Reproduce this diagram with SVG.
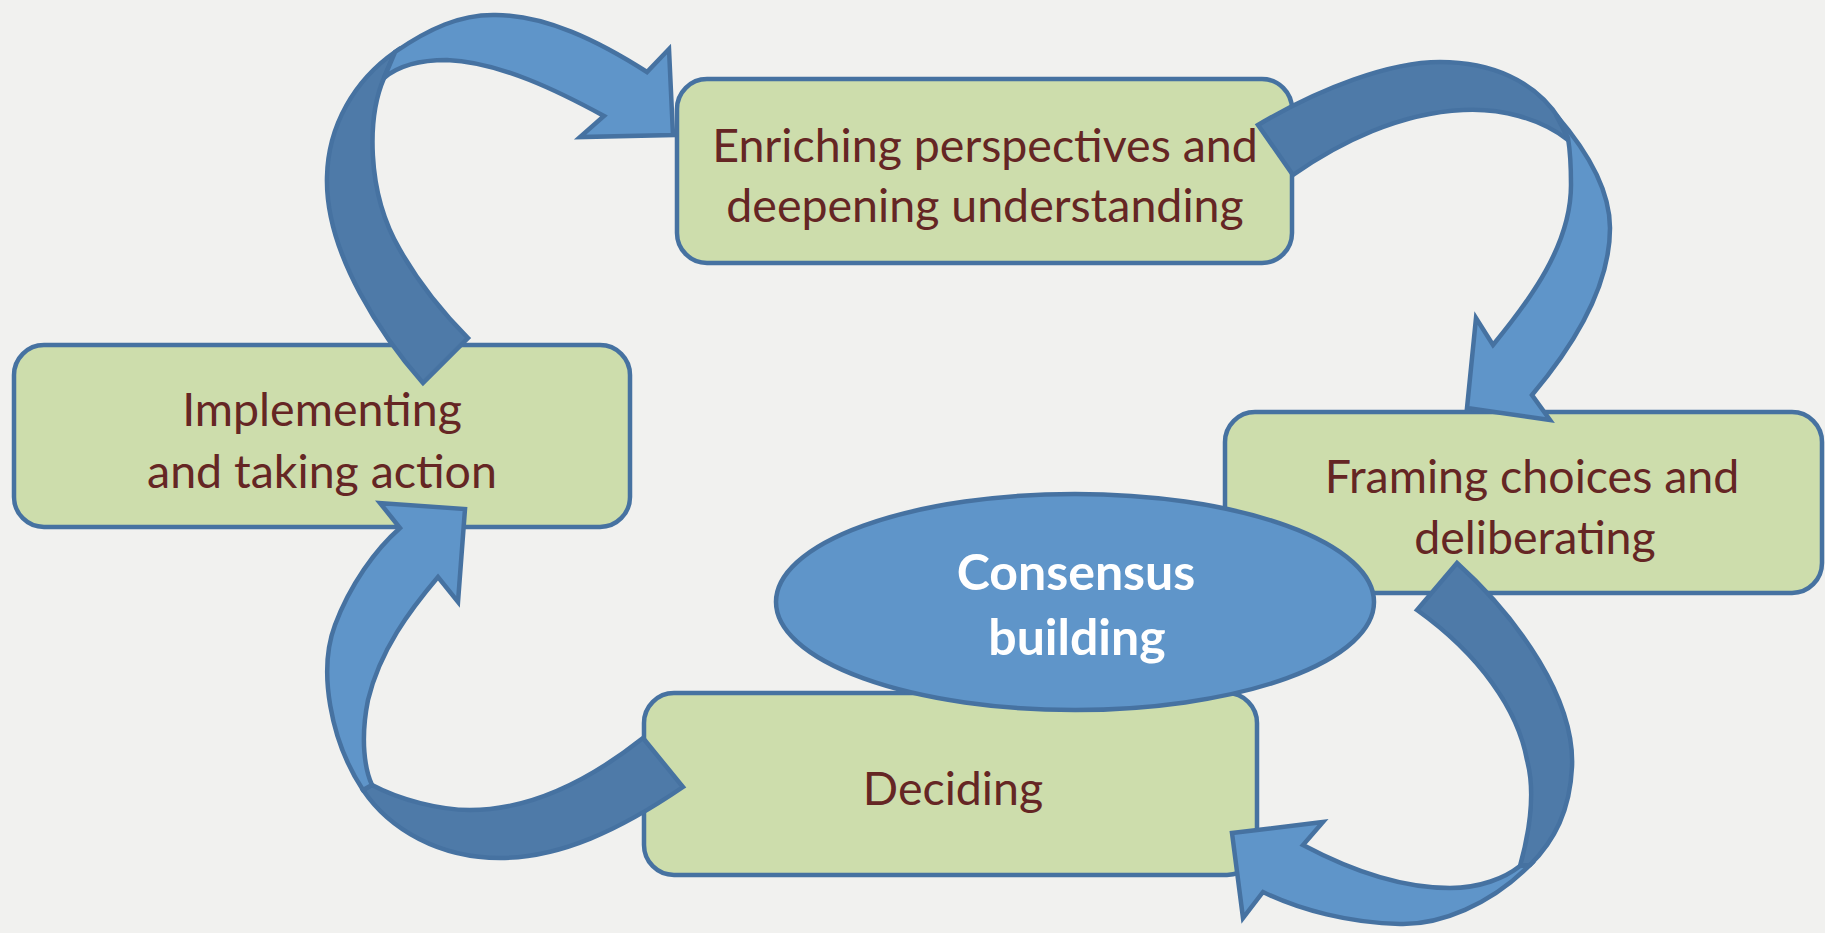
<svg xmlns="http://www.w3.org/2000/svg" width="1825" height="933" viewBox="0 0 1825 933">
<style>
.box{fill:#CDDDAC;stroke:#4672A1;stroke-width:4.5}
.lbl{font-family:Lato,"Open Sans","Liberation Sans",sans-serif;font-size:46.5px;fill:#652624;text-anchor:middle}
.ctr{font-family:Lato,"Open Sans","Liberation Sans",sans-serif;font-size:50px;font-weight:bold;fill:#FFFFFF;text-anchor:middle}
.dark{fill:#4E7AA8;stroke:#4672A1;stroke-width:4.5;stroke-linejoin:miter}
.light{fill:#5F95C9;stroke:#4672A1;stroke-width:4.5;stroke-linejoin:miter}
</style>
<rect width="1825" height="933" fill="#F1F1EF"/>
<g id="enriching">
<rect class="box" x="677" y="79" width="615" height="184" rx="30"/>
<text class="lbl" x="985" y="162">Enriching perspectives and</text>
<text class="lbl" x="985" y="222">deepening understanding</text>
</g>
<g id="implementing">
<rect class="box" x="14" y="345" width="616" height="182" rx="30"/>
<text class="lbl" x="322" y="426">Implementing</text>
<text class="lbl" x="322" y="488">and taking action</text>
</g>
<g id="framing">
<rect class="box" x="1225" y="412" width="597" height="181" rx="30"/>
<text class="lbl" x="1532" y="493">Framing choices and</text>
<text class="lbl" x="1535" y="554">deliberating</text>
</g>
<g id="deciding">
<rect class="box" x="644" y="693" width="613" height="182" rx="30"/>
<text class="lbl" x="953" y="805">Deciding</text>
</g>
<g id="consensus">
<ellipse cx="1075" cy="602" rx="299" ry="108" fill="#5F95C9" stroke="#4672A1" stroke-width="4.5"/>
<text class="ctr" x="1076" y="590">Consensus</text>
<text class="ctr" x="1077" y="655">building</text>
</g>
<g id="connectors">
<g id="arrow-implementing-enriching">
<path class="dark" d="M423,383 C385,340 325,255 327,177 C328,125 355,80 395,52 L384,78 C368,115 365,190 400,250 C420,285 445,315 468,338 Z"/>
<path class="light" d="M395,52 C430,28 460,15 493,15 C545,14 600,42 647,72 L669,49 L673,135 L580,137 L604,116 C560,92 500,62 447,60 C420,60 398,66 384,78 Z"/>
</g>
<g id="arrow-enriching-framing">
<path class="dark" d="M1258,125 C1320,88 1390,62 1440,62 C1490,62 1535,80 1560,120 L1568,140 C1540,118 1500,108 1463,110 C1400,113 1340,142 1293,175 Z"/>
<path class="light" d="M1556,115 C1582,145 1610,185 1610,228 C1610,290 1570,350 1532,395 L1550,420 L1467,408 L1476,318 L1493,345 C1530,300 1571,245 1571,185 C1571,165 1570,150 1568,138 Z"/>
</g>
<g id="arrow-framing-deciding">
<path class="dark" d="M1457,563 C1520,620 1575,700 1572,767 C1570,810 1555,840 1530,865 L1520,866 C1530,830 1535,790 1527,760 C1518,710 1480,655 1417,610 Z"/>
<path class="light" d="M1530,865 C1490,905 1440,925 1400,924 C1350,923 1300,910 1263,892 L1243,918 L1232,833 L1323,822 L1303,845 C1350,870 1400,888 1450,888 C1480,888 1505,878 1520,866 Z"/>
</g>
<g id="arrow-deciding-implementing">
<path class="dark" d="M683,787 C620,830 560,858 500,858 C440,858 390,830 363,790 L372,785 C400,800 440,810 470,810 C530,810 590,780 643,738 Z"/>
<path class="light" d="M363,790 C330,740 318,670 335,625 C350,585 375,550 400,528 L380,503 L465,509 L458,602 L438,577 C410,610 380,650 368,700 C360,740 365,770 372,785 Z"/>
</g>
</g>
</svg>
